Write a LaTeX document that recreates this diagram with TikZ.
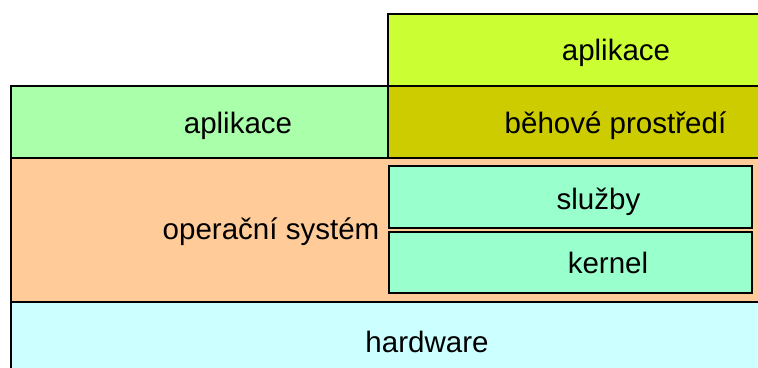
\documentclass[tikz,border=0pt]{standalone}
\usepackage{fontspec}
\setmainfont{Liberation Sans}
\usetikzlibrary{positioning}
\definecolor{aplA}{HTML}{AAFFAA}
\definecolor{aplB}{HTML}{CCFF33}
\definecolor{runt}{HTML}{CCCC00}
\definecolor{osys}{HTML}{FFCC99}
\definecolor{inner}{HTML}{99FFCC}
\definecolor{hwc}{HTML}{CCFFFF}
\begin{document}
\begin{tikzpicture}[x=0.03cm,y=-0.03cm,line width=1.5pt,
  every node/.style={font=\fontsize{25.2}{30}\selectfont,anchor=base,inner sep=0pt}]
\useasboundingbox (0,0) rectangle (758,368);
\clip (0,0) rectangle (758,368);
% layers
\filldraw[fill=hwc] (11,302) rectangle (780,390);
\filldraw[fill=osys] (11,158) rectangle (780,302);
\filldraw[fill=aplA] (11,86) rectangle (388,158);
\filldraw[fill=runt] (388,86) rectangle (780,158);
\filldraw[fill=aplB] (388,14) rectangle (780,86);
\filldraw[fill=inner] (389,166) rectangle (752,228);
\filldraw[fill=inner] (389,232) rectangle (752,293);
% labels
\node (apl2) at (616,61) {aplikace};
\node (runtime) at (615.5,133) {běhové prostředí};
\node (apl1) at (238,133) {aplikace};
\node (os) at (271,239) {operační systém};
\node (svc) at (598.5,209) {služby};
\node (kern) at (608,273) {kernel};
\node (hw) at (427,352) {hardware};
\end{tikzpicture}
\end{document}
